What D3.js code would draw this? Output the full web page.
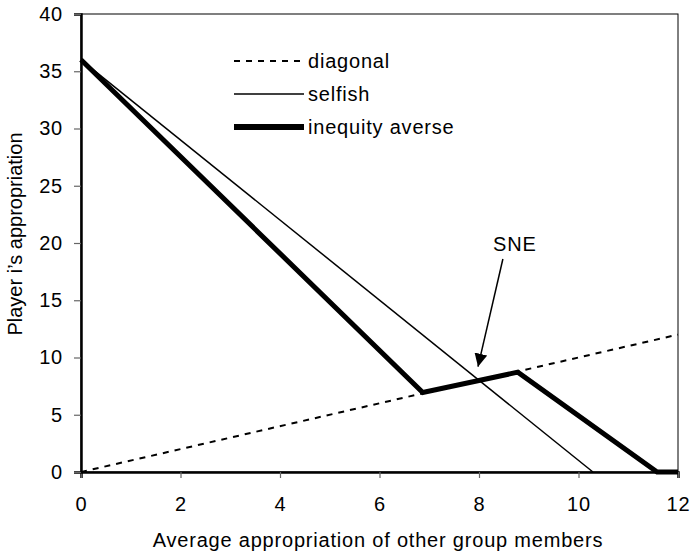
<!DOCTYPE html>
<html>
<head>
<script src="https://cdn.jsdelivr.net/npm/d3@7"></script>
<style>
  body { margin: 0; background: #fff; }
  text { font-family: "Liberation Sans", Arial, sans-serif; fill: #000; }
</style>
</head>
<body>
<script>
  var width = 693, height = 557;

  // data
  var xTicks = [0, 2, 4, 6, 8, 10, 12];
  var yTicks = [0, 5, 10, 15, 20, 25, 30, 35, 40];
  var diagonal = [[0, 0], [12, 12]];
  var selfish = [[0, 36], [10.29, 0]];
  var inequity = [[0, 36], [6.87, 6.95], [8.78, 8.72], [11.58, 0], [12, 0]];
  var seriesNames = ["diagonal", "selfish", "inequity averse"];
  var sneArrow = [[8.48, 18.6], [7.98, 9.2]];
  var sneLabel = {x: 8.72, y: 19.3, text: "SNE"};

  var fontSize = "20px", spacing = "0.8px";

  var svg = d3.select("body").append("svg")
    .attr("width", width)
    .attr("height", height);

  var x = d3.scaleLinear().domain([0, 12]).range([81, 678]);
  var y = d3.scaleLinear().domain([0, 40]).range([472, 14]);

  var defs = svg.append("defs");
  defs.append("marker")
    .attr("id", "arrow")
    .attr("viewBox", "0 0 10 10")
    .attr("refX", 10).attr("refY", 5)
    .attr("markerWidth", 13).attr("markerHeight", 13)
    .attr("markerUnits", "userSpaceOnUse")
    .attr("orient", "auto")
    .append("path")
    .attr("d", "M0,0L10,5L0,10z")
    .attr("fill", "#000");

  // frame
  svg.append("rect")
    .attr("x", x(0)).attr("y", y(40))
    .attr("width", x(12) - x(0)).attr("height", y(0) - y(40))
    .attr("fill", "none").attr("stroke", "#000").attr("stroke-width", 1);

  // axes
  var xAxis = svg.append("g")
    .attr("transform", "translate(0," + y(0) + ")")
    .call(d3.axisBottom(x).tickValues(xTicks).tickSize(6).tickPadding(19));
  var yAxis = svg.append("g")
    .attr("transform", "translate(" + x(0) + ",0)")
    .call(d3.axisLeft(y).tickValues(yTicks).tickSize(7).tickPadding(11));

  [xAxis, yAxis].forEach(function(g) {
    g.select(".domain").attr("stroke", "#000").attr("stroke-width", 2.5);
    g.selectAll(".tick line").attr("stroke", "#666").attr("stroke-width", 1.2);
    g.selectAll(".tick text")
      .style("font-family", "'Liberation Sans', Arial, sans-serif")
      .style("font-size", fontSize)
      .style("letter-spacing", spacing)
      .attr("fill", "#000");
  });

  var line = d3.line()
    .x(function(d) { return x(d[0]); })
    .y(function(d) { return y(d[1]); });

  svg.append("path").datum(diagonal)
    .attr("d", line).attr("fill", "none")
    .attr("stroke", "#000").attr("stroke-width", 2)
    .attr("stroke-dasharray", "6,6");

  svg.append("path").datum(selfish)
    .attr("d", line).attr("fill", "none")
    .attr("stroke", "#000").attr("stroke-width", 1.5);

  svg.append("path").datum(inequity)
    .attr("d", line).attr("fill", "none")
    .attr("stroke", "#000").attr("stroke-width", 5)
    .attr("stroke-linejoin", "miter");

  // legend
  var legendStyles = [
    {w: 2, dash: "6,6"},
    {w: 1.5, dash: null},
    {w: 6, dash: null}
  ];
  var legend = svg.append("g");
  seriesNames.forEach(function(name, i) {
    var ly = 61 + i * 33;
    legend.append("line")
      .attr("x1", 234).attr("x2", 304)
      .attr("y1", ly).attr("y2", ly)
      .attr("stroke", "#000")
      .attr("stroke-width", legendStyles[i].w)
      .attr("stroke-dasharray", legendStyles[i].dash);
    legend.append("text")
      .attr("x", 308).attr("y", ly + 7)
      .style("font-size", fontSize)
      .style("letter-spacing", spacing)
      .text(name);
  });

  // SNE annotation
  svg.append("line")
    .attr("x1", x(sneArrow[0][0])).attr("y1", y(sneArrow[0][1]))
    .attr("x2", x(sneArrow[1][0])).attr("y2", y(sneArrow[1][1]))
    .attr("stroke", "#000").attr("stroke-width", 1.5)
    .attr("marker-end", "url(#arrow)");
  svg.append("text")
    .attr("x", x(sneLabel.x)).attr("y", y(sneLabel.y))
    .attr("text-anchor", "middle")
    .style("font-size", fontSize)
    .style("letter-spacing", spacing)
    .text(sneLabel.text);

  // axis titles
  svg.append("text")
    .attr("x", 378).attr("y", 547)
    .attr("text-anchor", "middle")
    .style("font-size", fontSize)
    .style("letter-spacing", spacing)
    .text("Average appropriation of other group members");

  svg.append("text")
    .attr("transform", "translate(22,234) rotate(-90)")
    .attr("text-anchor", "middle")
    .style("font-size", fontSize)
    .text("Player i\u2019s appropriation");
</script>
</body>
</html>
